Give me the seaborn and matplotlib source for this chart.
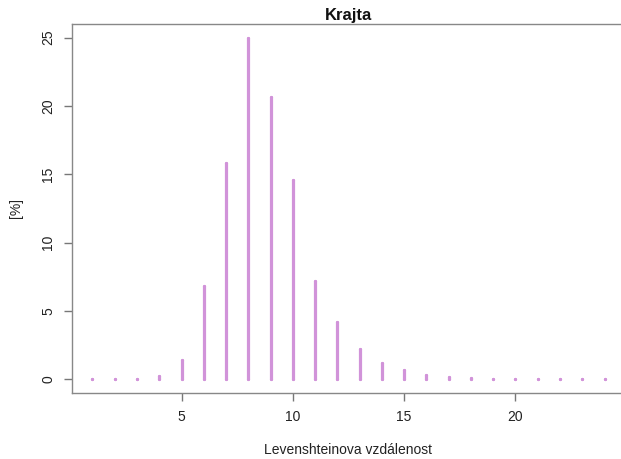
import matplotlib
matplotlib.use("Agg")
import matplotlib.pyplot as plt
import seaborn as sns
import pandas as pd

distance = list(range(1, 25))
percent = [0.04, 0.04, 0.05, 0.24, 1.45, 6.8, 15.8, 25.0, 20.65, 14.55, 7.2, 4.2,
           2.25, 1.22, 0.66, 0.34, 0.18, 0.1, 0.06, 0.05, 0.04, 0.04, 0.03, 0.03]
title = "Krajta"
xlabel = "Levenshteinova vzdálenost"
ylabel = "[%]"
xticks = [5, 10, 15, 20]
yticks = [0, 5, 10, 15, 20, 25]

rows = []
for d, p in zip(distance, percent):
    rows.append({"d": d, "y": 0.0, "unit": d})
    rows.append({"d": d, "y": p, "unit": d})
df = pd.DataFrame(rows)

sns.set_theme(style="white")
plt.rcParams["font.family"] = ["Liberation Sans", "DejaVu Sans"]

color = "#D193D9"
lw = 2.3

fig = plt.figure(figsize=(6.21, 4.59), dpi=100)
ax = fig.add_axes([72 / 621, 1 - 393 / 459, 553 / 621, 369 / 459])

sns.lineplot(data=df, x="d", y="y", units="unit", estimator=None, ax=ax,
             color=color, linewidth=lw, legend=False)
# round caps at both ends of each spike (R type="h" look)
sns.scatterplot(data=df, x="d", y="y", ax=ax, color=color, s=lw ** 2,
                linewidth=0, marker="o", legend=False)

ax.set_xlim(0.08, 24.92)
ax.set_ylim(-1.0, 26.0)
ax.set_xticks(xticks)
ax.set_yticks(yticks)
ax.set_yticklabels([str(v) for v in yticks], rotation=90, va="center")
ax.tick_params(axis="both", which="both", direction="out", length=6, width=1,
               color="#777777", labelsize=10, labelcolor="#222222", pad=6,
               bottom=True, left=True)
for s in ax.spines.values():
    s.set_color("#888888")
    s.set_linewidth(1.0)
ax.spines["right"].set_visible(False)
ax.set_xlabel(xlabel, fontsize=10, color="#222222", labelpad=14)
ax.set_ylabel(ylabel, fontsize=10, color="#222222", labelpad=13)
ax.set_title(title, fontsize=12, fontweight="bold", color="#111111", pad=3)
ax.grid(False)

fig.savefig("out.png", dpi=100)
